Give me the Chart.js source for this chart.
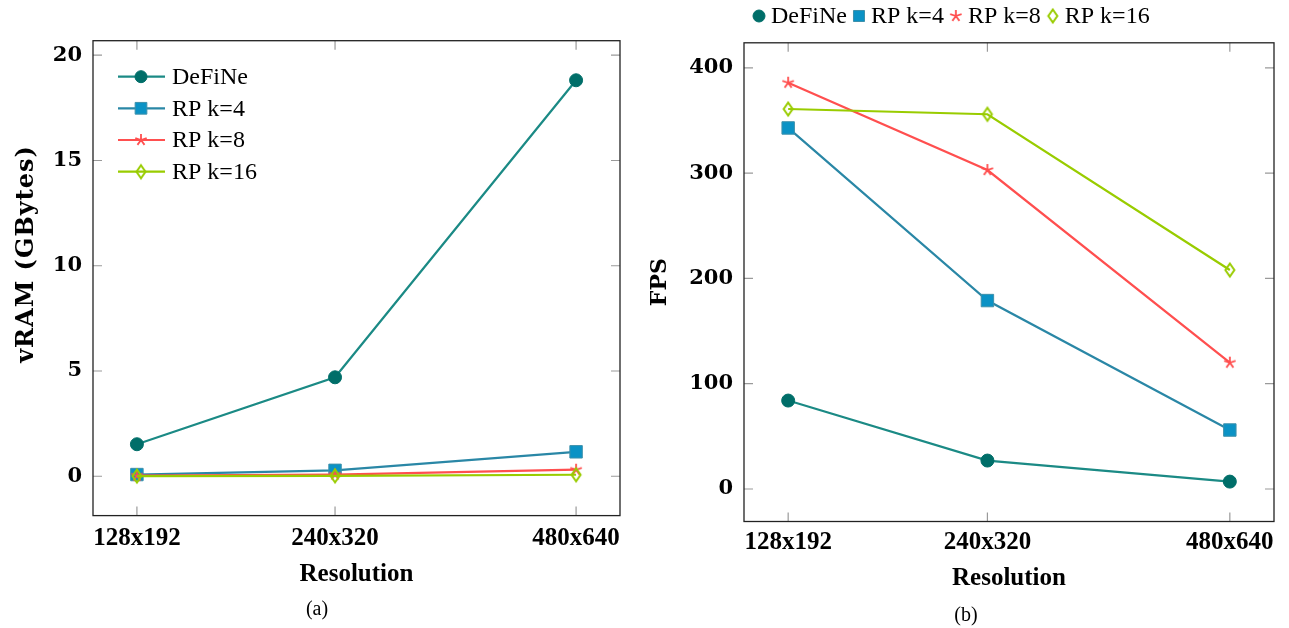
<!DOCTYPE html>
<html><head><meta charset="utf-8">
<script src="https://cdn.jsdelivr.net/npm/chart.js@4"></script>
<style>
html,body{margin:0;padding:0;background:#fff;width:1289px;height:628px;overflow:hidden;}
#wrapA{position:absolute;left:0;top:0;width:645px;height:628px;}
#wrapB{position:absolute;left:645px;top:0;width:644px;height:628px;}
.cap{position:absolute;font-family:"Liberation Serif",serif;font-size:20px;color:#000;transform:translate(-50%,-50%);white-space:nowrap;}
</style></head><body>
<div id="wrapA"><canvas id="cA" width="645" height="628"></canvas></div>
<div id="wrapB"><canvas id="cB" width="644" height="628"></canvas></div>
<div class="cap" style="left:317px;top:608px">(a)</div>
<div class="cap" style="left:966px;top:614px">(b)</div>
<script>
// ---- data ----
const resolutions = ['128x192', '240x320', '480x640'];
const pixelCounts = [24576, 76800, 307200];
const seriesNames = ['DeFiNe', 'RP k=4', 'RP k=8', 'RP k=16'];
const vramDeFiNe = [1.52, 4.70, 18.81];
const vramRP4 = [0.08, 0.28, 1.16];
const vramRP8 = [0.03, 0.08, 0.31];
const vramRP16 = [0.01, 0.02, 0.07];
const fpsDeFiNe = [84, 27, 7];
const fpsRP4 = [343, 179, 56];
const fpsRP8 = [386, 303, 120];
const fpsRP16 = [361, 356, 208];
const vramTicks = [0, 5, 10, 15, 20];
const fpsTicks = [0, 100, 200, 300, 400];

// ---- styles ----
function makeCanvas(w, h, draw) { const c = document.createElement('canvas'); c.width = w; c.height = h; draw(c.getContext('2d'), w, h); return c; }
const starImg = makeCanvas(16, 16, (g, w, h) => {
  g.strokeStyle = '#ff4f4f'; g.lineWidth = 1.8; g.beginPath();
  for (let i = 0; i < 5; i++) { const a = -Math.PI / 2 + i * 2 * Math.PI / 5; g.moveTo(w / 2, h / 2); g.lineTo(w / 2 + 6 * Math.cos(a), h / 2 + 6 * Math.sin(a)); }
  g.stroke();
});
const diamondImg = makeCanvas(14, 18, (g, w, h) => {
  g.strokeStyle = '#99cc00'; g.lineWidth = 2; g.beginPath();
  g.moveTo(w / 2, h / 2 - 6.5); g.lineTo(w / 2 + 4.5, h / 2); g.lineTo(w / 2, h / 2 + 6.5); g.lineTo(w / 2 - 4.5, h / 2); g.closePath(); g.stroke();
});
const styles = [
  { line: '#1b8a85', fill: '#006e69', border: '#006e69', pointStyle: 'circle', radius: 6.5, lr: 6 },
  { line: '#2a87a6', fill: '#0b92c5', border: '#3e90ab', pointStyle: 'rect', radius: 8.8, lr: 8.3 },
  { line: '#ff4f4f', fill: '#ff4f4f', border: '#ff4f4f', pointStyle: starImg, radius: 6, lr: 6 },
  { line: '#99cc00', fill: '#99cc00', border: '#99cc00', pointStyle: diamondImg, radius: 6, lr: 6 }
];

function makeDatasets(seriesList) {
  return seriesList.map((vals, i) => ({
    label: seriesNames[i],
    data: vals.map((v, j) => ({ x: pixelCounts[j], y: v })),
    borderColor: styles[i].line, borderWidth: 2.2,
    pointStyle: styles[i].pointStyle, pointRadius: styles[i].radius,
    pointBackgroundColor: styles[i].fill, pointBorderColor: styles[i].border, pointBorderWidth: 1,
    tension: 0, fill: false, order: seriesList.length - 1 - i
  }));
}

const lr = Math.log(pixelCounts[pixelCounts.length - 1] / pixelCounts[0]);
const xMin = pixelCounts[0] * Math.exp(-0.1 * lr);
const xMax = pixelCounts[pixelCounts.length - 1] * Math.exp(0.1 * lr);
function yLimits(lists) {
  const all = lists.flat(); const mn = Math.min(...all), mx = Math.max(...all), r = mx - mn;
  return { min: mn - 0.1 * r, max: mx + 0.1 * r };
}

const frameTicks = {
  id: 'frameTicks',
  beforeDatasetsDraw(chart) {
    const { ctx, chartArea: a, scales: { x, y } } = chart; const L = 9;
    ctx.save(); ctx.strokeStyle = '#9a9a9a'; ctx.lineWidth = 1.2; ctx.beginPath();
    x.ticks.forEach(t => { const p = x.getPixelForValue(t.value); ctx.moveTo(p, a.bottom); ctx.lineTo(p, a.bottom - L); ctx.moveTo(p, a.top); ctx.lineTo(p, a.top + L); });
    y.ticks.forEach(t => { const p = y.getPixelForValue(t.value); ctx.moveTo(a.left, p); ctx.lineTo(a.left + L, p); ctx.moveTo(a.right, p); ctx.lineTo(a.right - L, p); });
    ctx.stroke(); ctx.restore();
  },
  afterDraw(chart) {
    const { ctx, chartArea: a } = chart;
    ctx.save(); ctx.strokeStyle = '#222'; ctx.lineWidth = 1.3; ctx.strokeRect(a.left, a.top, a.right - a.left, a.bottom - a.top); ctx.restore();
  }
};

function drawMarker(ctx, i, x, y, r) {
  const s = styles[i];
  ctx.save(); ctx.fillStyle = s.fill; ctx.strokeStyle = s.border; ctx.lineWidth = 1;
  Chart.helpers.drawPoint(ctx, { pointStyle: s.pointStyle, radius: r, rotation: 0, borderWidth: 1 }, x, y);
  ctx.restore();
}

const legendA = {
  id: 'legendA',
  afterDraw(chart) {
    const ctx = chart.ctx; const rows = [76.7, 108.3, 140, 171.7];
    ctx.save(); ctx.font = '24px "Liberation Serif"'; ctx.fillStyle = '#000'; ctx.textBaseline = 'middle'; ctx.textAlign = 'left';
    chart.data.datasets.forEach((ds, i) => {
      const y = rows[i];
      ctx.strokeStyle = styles[i].line; ctx.lineWidth = 2.2; ctx.beginPath(); ctx.moveTo(118, y); ctx.lineTo(165, y); ctx.stroke();
      drawMarker(ctx, i, 141, y, styles[i].lr);
      ctx.fillStyle = '#000'; ctx.fillText(ds.label, 172, y + 1);
    });
    // y axis title
    ctx.translate(27, 254); ctx.rotate(-Math.PI / 2);
    ctx.font = 'bold 24px "DejaVu Serif"'; ctx.textAlign = 'center';
    try { ctx.letterSpacing = '1px'; } catch (e) {}
    ctx.fillText('vRAM (GBytes)', 0, 0);
    ctx.restore();
  }
};

const legendB = {
  id: 'legendB',
  afterDraw(chart) {
    const ctx = chart.ctx; const y = 16; let x = 114;
    ctx.save(); ctx.font = '24px "Liberation Serif"'; ctx.textBaseline = 'middle'; ctx.textAlign = 'left';
    chart.data.datasets.forEach((ds, i) => {
      drawMarker(ctx, i, x, y, i === 1 ? 7.8 : styles[i].lr);
      ctx.fillStyle = '#000'; ctx.fillText(ds.label, x + 12, y + 1);
      x += 12 + ctx.measureText(ds.label).width + 12;
    });
    ctx.restore();
  }
};

function makeOptions(cfg) {
  return {
    responsive: false, animation: false, events: [],
    layout: { padding: cfg.padding },
    plugins: { legend: { display: false }, tooltip: { enabled: false } },
    scales: {
      x: {
        type: 'logarithmic', min: xMin, max: xMax,
        afterBuildTicks: s => { s.ticks = pixelCounts.map(v => ({ value: v })); },
        afterFit: s => { s.height = cfg.xHeight; },
        grid: { display: false, drawTicks: false }, border: { display: false },
        ticks: { padding: cfg.xTickPad, color: '#000', autoSkip: false, maxRotation: 0,
          font: { family: '"Liberation Serif"', size: 25, weight: 'bold' },
          callback: v => resolutions[pixelCounts.indexOf(v)] },
        title: { display: true, text: 'Resolution', color: '#000', padding: { top: 0, bottom: cfg.xTitlePad },
          font: { family: '"Liberation Serif"', size: 25, weight: 'bold', lineHeight: 1.2 } }
      },
      y: {
        type: 'linear', min: cfg.yLim.min, max: cfg.yLim.max,
        afterBuildTicks: s => { s.ticks = cfg.yTicks.map(v => ({ value: v })); },
        afterFit: s => { s.width = cfg.yWidth; },
        grid: { display: false, drawTicks: false }, border: { display: false },
        ticks: { padding: 11, color: '#000', font: { family: '"DejaVu Serif"', size: 21, weight: 'bold' } },
        title: cfg.yTitle ? { display: true, text: cfg.yTitle, color: '#000', padding: { top: 2, bottom: 0 },
          font: { family: '"DejaVu Serif"', size: 22, weight: 'bold', lineHeight: 1.2 } } : { display: false }
      }
    }
  };
}

const vramSeries = [vramDeFiNe, vramRP4, vramRP8, vramRP16];
const fpsSeries = [fpsDeFiNe, fpsRP4, fpsRP8, fpsRP16];

new Chart(document.getElementById('cA'), {
  type: 'line',
  data: { datasets: makeDatasets(vramSeries) },
  options: makeOptions({ padding: { left: 0, right: 25, top: 40.7, bottom: 0 }, xHeight: 112.4, xTickPad: 8, xTitlePad: 38,
    yLim: yLimits(vramSeries), yTicks: vramTicks, yWidth: 93, yTitle: null }),
  plugins: [frameTicks, legendA]
});

new Chart(document.getElementById('cB'), {
  type: 'line',
  data: { datasets: makeDatasets(fpsSeries) },
  options: makeOptions({ padding: { left: 0, right: 15, top: 42.8, bottom: 0 }, xHeight: 106.5, xTickPad: 6, xTitlePad: 34,
    yLim: yLimits(fpsSeries), yTicks: fpsTicks, yWidth: 99, yTitle: 'FPS' }),
  plugins: [frameTicks, legendB]
});
</script>
</body></html>
